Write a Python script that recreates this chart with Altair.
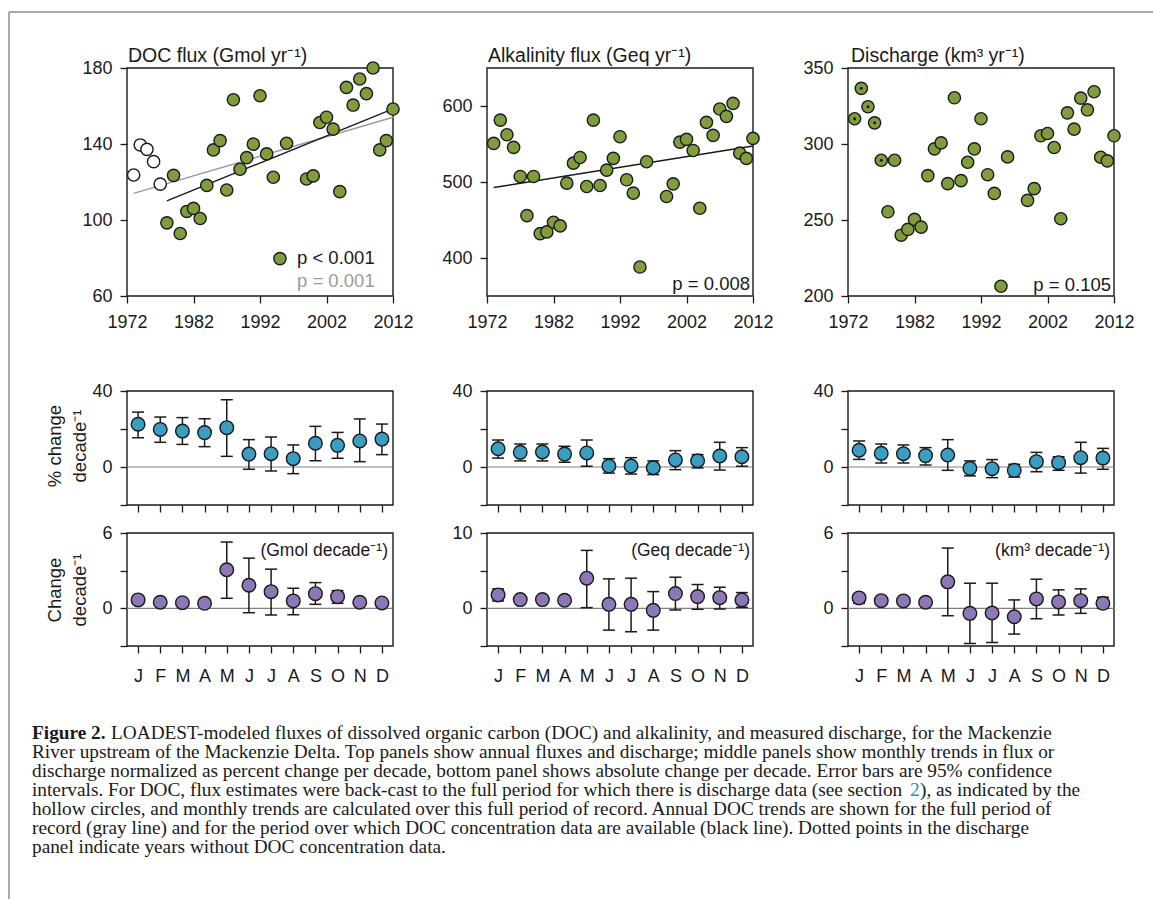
import altair as alt
import pandas as pd

# ------------------------------------------------------------------ data
years = [1973, 1974, 1975, 1976, 1977, 1978, 1979, 1980, 1981, 1982, 1983, 1984,
         1985, 1986, 1987, 1988, 1989, 1990, 1991, 1992, 1993, 1994, 1995, 1996,
         1999, 2000, 2001, 2002, 2003, 2004, 2005, 2006, 2007, 2008, 2009, 2010,
         2011, 2012]
doc_flux = [123.7, 139.5, 137.2, 130.7, 118.9, 98.5, 123.5, 92.9, 104.5, 106.1,
            100.8, 118.2, 136.9, 141.8, 115.8, 163.3, 126.7, 132.8, 139.9, 165.4,
            134.8, 122.5, 79.7, 140.4, 121.6, 123.2, 151.3, 154.1, 147.8, 114.9,
            169.8, 160.5, 174.2, 166.5, 180.0, 136.9, 141.8, 158.4]
alk_flux = [550.8, 581.5, 562.2, 545.5, 507.3, 455.8, 507.3, 432.1, 434.3, 447.0,
            442.2, 498.5, 524.8, 532.3, 494.1, 581.5, 495.4, 515.6, 531.0, 559.6,
            502.9, 485.3, 388.1, 526.6, 480.9, 497.6, 552.5, 556.0, 541.5, 465.5,
            578.5, 561.3, 596.0, 586.4, 603.5, 538.0, 531.0, 557.4]
discharge = [316.6, 336.6, 324.5, 313.9, 289.3, 255.4, 289.3, 240.0, 243.8, 250.4,
             245.3, 279.2, 296.8, 300.7, 273.9, 330.4, 275.9, 288.0, 296.8, 316.6,
             279.8, 267.5, 206.4, 291.5, 262.9, 270.6, 305.4, 306.9, 297.7, 250.8,
             320.5, 309.8, 330.2, 322.5, 334.4, 291.3, 288.9, 305.4]
backcast_years = [1973, 1974, 1975, 1976, 1977]   # hollow DOC points / dotted discharge

doc_trend_full_years = [1973, 2012]
doc_trend_full = [114.0, 154.1]       # gray line
doc_trend_conc_years = [1978, 2012]
doc_trend_conc = [110.1, 158.5]       # black line
alk_trend_years = [1973, 2012]
alk_trend = [492.7, 547.3]

month_labels = ["J", "F", "M", "A", "M", "J", "J", "A", "S", "O", "N", "D"]
month_idx = [1, 2, 3, 4, 5, 6, 7, 8, 9, 10, 11, 12]

doc_pct = [22.5, 19.8, 18.9, 18.1, 20.7, 6.8, 7.0, 4.4, 12.5, 11.4, 13.7, 14.7]
doc_pct_lo = [15.4, 13.0, 11.9, 10.7, 5.6, -1.2, -2.1, -3.5, 3.3, 4.6, 2.8, 6.5]
doc_pct_hi = [28.9, 26.3, 26.0, 25.4, 35.4, 14.4, 15.8, 11.6, 21.4, 18.2, 25.3, 22.6]
doc_abs = [0.67, 0.48, 0.45, 0.40, 3.07, 1.84, 1.33, 0.59, 1.17, 0.93, 0.48, 0.43]
doc_abs_lo = [0.55, 0.38, 0.36, 0.32, 0.80, -0.35, -0.53, -0.51, 0.32, 0.40, 0.27, 0.33]
doc_abs_hi = [0.80, 0.58, 0.54, 0.48, 5.28, 4.00, 3.12, 1.60, 2.05, 1.41, 0.72, 0.53]

alk_pct = [9.6, 7.7, 7.9, 6.8, 7.4, 0.5, 0.5, -0.4, 3.7, 3.3, 5.8, 5.4]
alk_pct_lo = [4.7, 3.2, 3.2, 2.5, 0.4, -3.2, -3.7, -4.0, -1.4, -0.5, -1.6, 0.4]
alk_pct_hi = [14.2, 12.1, 12.1, 10.9, 14.2, 4.4, 4.9, 3.2, 8.6, 6.5, 13.0, 10.2]
alk_abs = [1.78, 1.16, 1.16, 1.07, 4.00, 0.53, 0.53, -0.27, 1.96, 1.56, 1.42, 1.11]
alk_abs_lo = [0.98, 0.75, 0.75, 0.67, 0.09, -2.89, -3.11, -2.89, -0.22, -0.13, -0.09, 0.13]
alk_abs_hi = [2.58, 1.55, 1.55, 1.42, 7.69, 3.91, 4.00, 2.22, 4.13, 3.16, 2.80, 2.09]

q_pct = [8.8, 7.2, 7.0, 6.0, 6.3, -0.7, -0.9, -1.75, 2.8, 2.3, 4.9, 4.7]
q_pct_lo = [4.0, 2.1, 2.1, 1.05, -1.75, -4.7, -5.6, -5.3, -2.5, -1.75, -3.2, -1.2]
q_pct_hi = [13.7, 12.1, 11.6, 10.2, 14.4, 3.2, 3.9, 1.4, 7.7, 5.4, 13.0, 9.8]
q_abs = [0.83, 0.61, 0.59, 0.48, 2.11, -0.40, -0.37, -0.67, 0.75, 0.51, 0.61, 0.40]
q_abs_lo = [0.40, 0.45, 0.45, 0.35, -0.59, -2.80, -2.72, -2.05, -0.83, -0.53, -0.40, 0.00]
q_abs_hi = [1.15, 0.77, 0.75, 0.62, 4.80, 2.00, 2.00, 0.67, 2.32, 1.47, 1.55, 0.88]

titles = ["DOC flux (Gmol yr\u207b\u00b9)", "Alkalinity flux (Geq yr\u207b\u00b9)",
          "Discharge (km\u00b3 yr\u207b\u00b9)"]
unit_notes = ["(Gmol decade\u207b\u00b9)", "(Geq decade\u207b\u00b9)", "(km\u00b3 decade\u207b\u00b9)"]
p_texts = ["p < 0.001", "p = 0.001", "p = 0.008", "p = 0.105"]

caption_bold = "Figure 2."
caption_lines = [
    "LOADEST-modeled fluxes of dissolved organic carbon (DOC) and alkalinity, and measured discharge, for the Mackenzie",
    "River upstream of the Mackenzie Delta. Top panels show annual fluxes and discharge; middle panels show monthly trends in flux or",
    "discharge normalized as percent change per decade, bottom panel shows absolute change per decade. Error bars are 95% confidence",
    "intervals. For DOC, flux estimates were back-cast to the full period for which there is discharge data (see section ",
    "hollow circles, and monthly trends are calculated over this full period of record. Annual DOC trends are shown for the full period of",
    "record (gray line) and for the period over which DOC concentration data are available (black line). Dotted points in the discharge",
    "panel indicate years without DOC concentration data.",
]
caption_link = "2"
caption_line4_tail = "), as indicated by the"

# ------------------------------------------------------------------ style
W, H = 1153, 899
SANS = "Liberation Sans"
SERIF = "Liberation Serif"
INK = "#1a1a1a"
GREEN = "#7f9d3d"
BLUE = "#3a9dc2"
PURPLE = "#8d77b7"
GRAYLINE = "#9a9a9a"
ZERO = "#808080"
LBL = 18

COLS = [(127, 393), (487, 753), (848, 1114)]
ROW_TOP = (68, 296)
ROW_MID = (391, 505)
ROW_BOT = (533, 646)

ONE = pd.DataFrame({"k": [0]})

annual = pd.DataFrame({"year": years, "doc": doc_flux, "alk": alk_flux, "q": discharge})
annual["back"] = annual["year"].isin(backcast_years)
monthly = pd.DataFrame({
    "m": month_idx,
    "doc_pct": doc_pct, "doc_pct_lo": doc_pct_lo, "doc_pct_hi": doc_pct_hi,
    "doc_abs": doc_abs, "doc_abs_lo": doc_abs_lo, "doc_abs_hi": doc_abs_hi,
    "alk_pct": alk_pct, "alk_pct_lo": alk_pct_lo, "alk_pct_hi": alk_pct_hi,
    "alk_abs": alk_abs, "alk_abs_lo": alk_abs_lo, "alk_abs_hi": alk_abs_hi,
    "q_pct": q_pct, "q_pct_lo": q_pct_lo, "q_pct_hi": q_pct_hi,
    "q_abs": q_abs, "q_abs_lo": q_abs_lo, "q_abs_hi": q_abs_hi,
})

layers = []


def scale(dom, rng):
    return alt.Scale(domain=dom, range=rng, nice=False, zero=False)


AXSTYLE = dict(domain=False, grid=False, title=None, tickSize=7, tickColor=INK, tickWidth=1.3,
               labelFont=SANS, labelFontSize=LBL, labelColor=INK)


def y_axis(xleft, values, shown=None):
    kw = {}
    if shown is not None:
        kw["labelExpr"] = " || ".join(f"datum.value == {v}" for v in shown) + " ? datum.label : ''"
    return alt.Axis(orient="left", offset=-xleft, values=values, labelPadding=8, **AXSTYLE, **kw)


def x_axis(ybottom, values, labels=True, expr=None, pad=6):
    kw = {}
    if expr is not None:
        kw["labelExpr"] = expr
    return alt.Axis(orient="bottom", offset=ybottom - H, values=values, labels=labels,
                    labelFlush=False, labelPadding=pad, format="d", **AXSTYLE, **kw)


def text(s, x, y, size=18, align="left", color=INK, angle=0, font=SANS, weight="normal"):
    return alt.Chart(ONE).mark_text(text=s, align=align, baseline="middle", fontSize=size,
                                    font=font, color=color, angle=angle, fontWeight=weight
                                    ).encode(x=alt.value(x), y=alt.value(y))


# ------------------------------------------------------------ annual panels
annual_specs = [
    ("doc", [60, 180], [60, 100, 140, 180]),
    ("alk", [350, 650], [400, 500, 600]),
    ("q", [200, 350], [200, 250, 300, 350]),
]
for i, (field, ydom, yvals) in enumerate(annual_specs):
    xr = COLS[i]
    sx = scale([1972, 2012], list(xr))
    sy = scale(ydom, [ROW_TOP[1], ROW_TOP[0]])
    layers.append(
        alt.Chart(ONE).mark_rect(filled=False, color=INK, strokeWidth=1.4).encode(
            x=alt.X(datum=1972, type="quantitative", scale=sx,
                    axis=x_axis(ROW_TOP[1], [1972, 1982, 1992, 2002, 2012], pad=10)),
            x2=alt.X2(datum=2012),
            y=alt.Y(datum=ydom[0], type="quantitative", scale=sy, axis=y_axis(xr[0], yvals)),
            y2=alt.Y2(datum=ydom[1]),
        )
    )
    if field == "doc":
        for yrs, vals, col in [(doc_trend_full_years, doc_trend_full, GRAYLINE),
                               (doc_trend_conc_years, doc_trend_conc, INK)]:
            layers.append(alt.Chart(pd.DataFrame({"year": yrs, "v": vals})).mark_line(
                color=col, strokeWidth=1.4).encode(
                x=alt.X("year:Q", scale=sx, axis=None), y=alt.Y("v:Q", scale=sy, axis=None)))
    if field == "alk":
        layers.append(alt.Chart(pd.DataFrame({"year": alk_trend_years, "v": alk_trend})).mark_line(
            color=INK, strokeWidth=1.4).encode(
            x=alt.X("year:Q", scale=sx, axis=None), y=alt.Y("v:Q", scale=sy, axis=None)))
    if field == "doc":
        subsets = [(annual[annual["back"]], "white"), (annual[~annual["back"]], GREEN)]
    else:
        subsets = [(annual, GREEN)]
    for df, fillc in subsets:
        layers.append(alt.Chart(df).mark_circle(size=150, fill=fillc, stroke=INK, strokeWidth=1.4,
                                                opacity=1).encode(
            x=alt.X("year:Q", scale=sx, axis=None), y=alt.Y(f"{field}:Q", scale=sy, axis=None)))
    if field == "q":
        layers.append(alt.Chart(annual[annual["back"]]).mark_circle(size=9, color=INK, opacity=1).encode(
            x=alt.X("year:Q", scale=sx, axis=None), y=alt.Y("q:Q", scale=sy, axis=None)))

# ------------------------------------------------------------ monthly panels
month_expr = "[" + ",".join(f"'{m}'" for m in month_labels) + "][datum.value - 1]"
monthly_specs = [
    (0, ROW_MID, "doc_pct", [-20, 40], [-20, 0, 20, 40], [0, 40], BLUE, False),
    (1, ROW_MID, "alk_pct", [-20, 40], [-20, 0, 20, 40], [0, 40], BLUE, False),
    (2, ROW_MID, "q_pct", [-20, 40], [-20, 0, 20, 40], [0, 40], BLUE, False),
    (0, ROW_BOT, "doc_abs", [-3, 6], [-3, 0, 3, 6], [0, 6], PURPLE, True),
    (1, ROW_BOT, "alk_abs", [-5, 10], [-5, 0, 5, 10], [0, 10], PURPLE, True),
    (2, ROW_BOT, "q_abs", [-3, 6], [-3, 0, 3, 6], [0, 6], PURPLE, True),
]
for ci, row, field, ydom, yvals, shown, colr, lab in monthly_specs:
    xr = COLS[ci]
    sx = scale([0.5, 12.5], list(xr))
    sy = scale(ydom, [row[1], row[0]])
    layers.append(
        alt.Chart(ONE).mark_rect(filled=False, color=INK, strokeWidth=1.4).encode(
            x=alt.X(datum=0.5, type="quantitative", scale=sx,
                    axis=x_axis(row[1], month_idx, labels=lab, expr=month_expr, pad=14)),
            x2=alt.X2(datum=12.5),
            y=alt.Y(datum=ydom[0], type="quantitative", scale=sy, axis=y_axis(xr[0], yvals, shown)),
            y2=alt.Y2(datum=ydom[1]),
        )
    )
    layers.append(alt.Chart(ONE).mark_rule(color=ZERO, strokeWidth=1.2).encode(
        x=alt.X(datum=0.5, type="quantitative", scale=sx, axis=None), x2=alt.X2(datum=12.5),
        y=alt.Y(datum=0, type="quantitative", scale=sy, axis=None)))
    layers.append(alt.Chart(monthly).mark_rule(color=INK, strokeWidth=1.5).encode(
        x=alt.X("m:Q", scale=sx, axis=None),
        y=alt.Y(f"{field}_lo:Q", scale=sy, axis=None), y2=alt.Y2(f"{field}_hi:Q")))
    for end in ("lo", "hi"):
        layers.append(alt.Chart(monthly).mark_tick(orient="horizontal", size=12, thickness=1.5,
                                                   color=INK, opacity=1).encode(
            x=alt.X("m:Q", scale=sx, axis=None),
            y=alt.Y(f"{field}_{end}:Q", scale=sy, axis=None)))
    layers.append(alt.Chart(monthly).mark_circle(size=185, fill=colr, stroke=INK, strokeWidth=1.4,
                                                 opacity=1).encode(
        x=alt.X("m:Q", scale=sx, axis=None), y=alt.Y(f"{field}:Q", scale=sy, axis=None)))

# ------------------------------------------------------------ texts
title_x = [128, 488, 851]
for i, t in enumerate(titles):
    layers.append(text(t, title_x[i], 56, size=19.5))
layers.append(text(p_texts[0], 297, 258, size=18.5))
layers.append(text(p_texts[1], 297, 281, size=18.5, color=GRAYLINE))
layers.append(text(p_texts[2], 750, 284, size=18.5, align="right"))
layers.append(text(p_texts[3], 1111, 285, size=18.5, align="right"))
note_right = [388, 750, 1110]
for i, t in enumerate(unit_notes):
    layers.append(text(t, note_right[i], 551, size=17.5, align="right"))
layers.append(text("% change", 55, 446, size=18.5, align="center", angle=270))
layers.append(text("decade\u207b\u00b9", 80, 446, size=18.5, align="center", angle=270))
layers.append(text("Change", 55, 590, size=18.5, align="center", angle=270))
layers.append(text("decade\u207b\u00b9", 80, 590, size=18.5, align="center", angle=270))

# caption
CAP = 19.3
cap_y0, cap_dy = 733, 19
layers.append(text(caption_bold, 32, cap_y0, size=CAP, font=SERIF, weight="bold"))
layers.append(text(caption_lines[0], 111, cap_y0, size=CAP, font=SERIF))
for k in range(1, 7):
    layers.append(text(caption_lines[k], 32, cap_y0 + k * cap_dy, size=CAP, font=SERIF))
layers.append(text(caption_link, 910, cap_y0 + 3 * cap_dy, size=CAP, font=SERIF, color="#2b8cc4"))
layers.append(text(caption_line4_tail, 920, cap_y0 + 3 * cap_dy, size=CAP, font=SERIF))

# outer frame of the figure box
layers.append(alt.Chart(ONE).mark_rule(color="#8c8c8c", strokeWidth=1.5).encode(
    x=alt.value(9), y=alt.value(12), y2=alt.value(H)))
layers.append(alt.Chart(ONE).mark_rule(color="#8c8c8c", strokeWidth=1.5).encode(
    x=alt.value(9), x2=alt.value(W), y=alt.value(12)))

chart = alt.layer(*layers).resolve_scale(x="independent", y="independent").resolve_axis(
    x="independent", y="independent"
).properties(
    width=W, height=H, autosize=alt.AutoSizeParams(type="none"), padding=0,
    background="white",
).configure_view(strokeWidth=0)

chart.save("out.html", embed_options={"renderer": "svg", "actions": False})
